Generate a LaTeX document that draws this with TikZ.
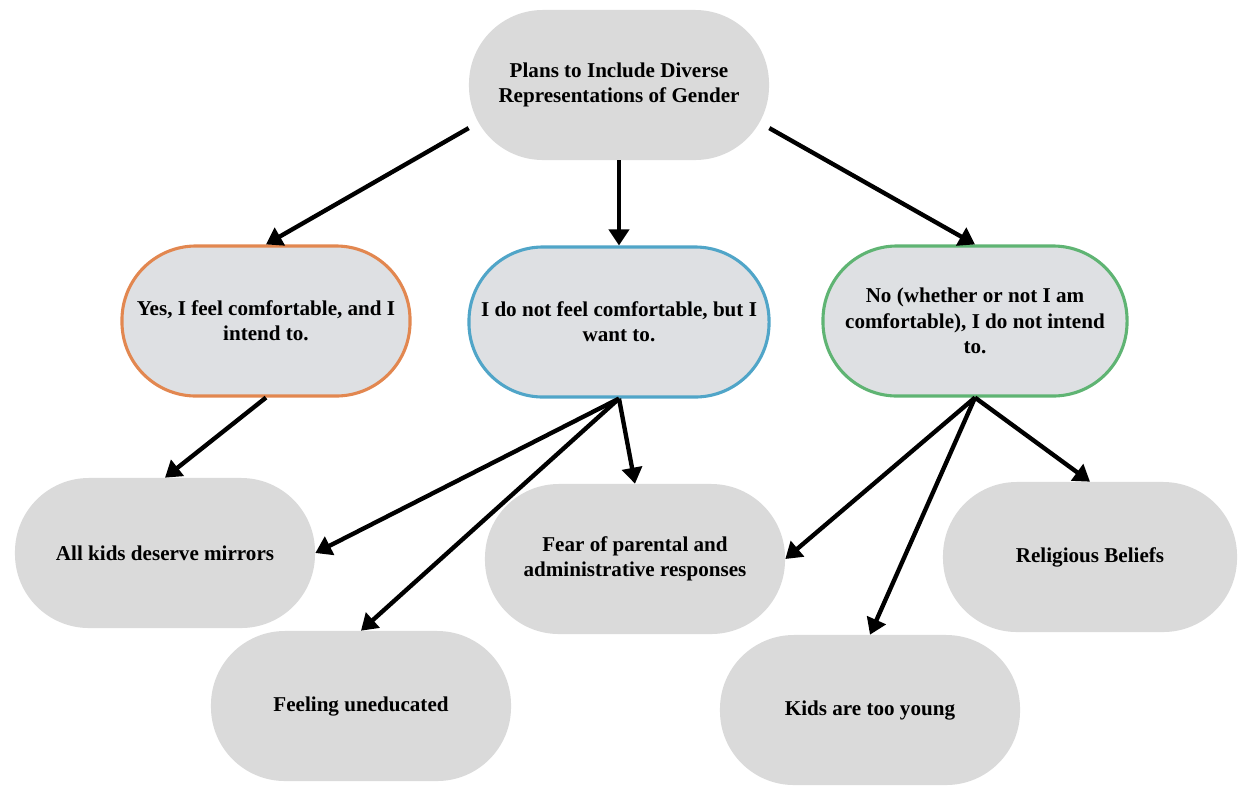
\documentclass[tikz,border=0pt]{standalone}
\usepackage{fontspec}
\setmainfont{Liberation Serif}
\usetikzlibrary{arrows.meta}

\definecolor{bubblegray}{RGB}{218,218,218}
\definecolor{midgray}{RGB}{222,224,227}
\definecolor{yesorange}{RGB}{226,135,80}
\definecolor{wantblue}{RGB}{80,165,200}
\definecolor{nogreen}{RGB}{95,180,115}

\tikzset{
  bubble/.style={rectangle,rounded corners=1.85cm,fill=bubblegray,
    minimum width=7.5cm,minimum height=3.75cm,align=center,
    font=\fontsize{15}{18}\selectfont\bfseries},
  choice/.style={bubble,fill=midgray,line width=2.2pt},
  link/.style={line width=3.1pt,-{Triangle[length=0.4cm,width=0.5cm]}}
}

\begin{document}
\begin{tikzpicture}[x=0.025cm,y=-0.025cm]
  \useasboundingbox (0,0) rectangle (1242,785);
  \node[bubble] (plans) at (619,85) {Plans to Include Diverse\\Representations of Gender};
  \node[choice,draw=yesorange,minimum width=7.2cm] (yes) at (266,321) {Yes, I feel comfortable, and I\\intend to.};
  \node[choice,draw=wantblue] (want) at (619,322) {I do not feel comfortable, but I\\want to.};
  \node[choice,draw=nogreen,minimum width=7.6cm] (no) at (975,321) {No (whether or not I am\\comfortable), I do not intend\\to.};
  \node[bubble] (mirrors) at (165,553) {All kids deserve mirrors};
  \node[bubble] (fear) at (635,559) {Fear of parental and\\administrative responses};
  \node[bubble,minimum width=7.35cm] (relig) at (1090,557) {Religious Beliefs};
  \node[bubble] (uned) at (361,706) {Feeling uneducated};
  \node[bubble] (young) at (870,710) {Kids are too young};
  % top level
  \draw[link] (plans.196) -- (yes.north);
  \draw[link] (plans.south) -- (want.north);
  \draw[link] (plans.-16) -- (no.north);
  % reasons
  \draw[link] (yes.south) -- (mirrors.north);
  \draw[link] (want.south) -- (mirrors.east);
  \draw[link] (want.south) -- (uned.north);
  \draw[link] (want.south) -- (fear.north);
  \draw[link] (no.south) -- (fear.east);
  \draw[link] (no.south) -- (young.north);
  \draw[link] (no.south) -- (relig.north);
\end{tikzpicture}
\end{document}
